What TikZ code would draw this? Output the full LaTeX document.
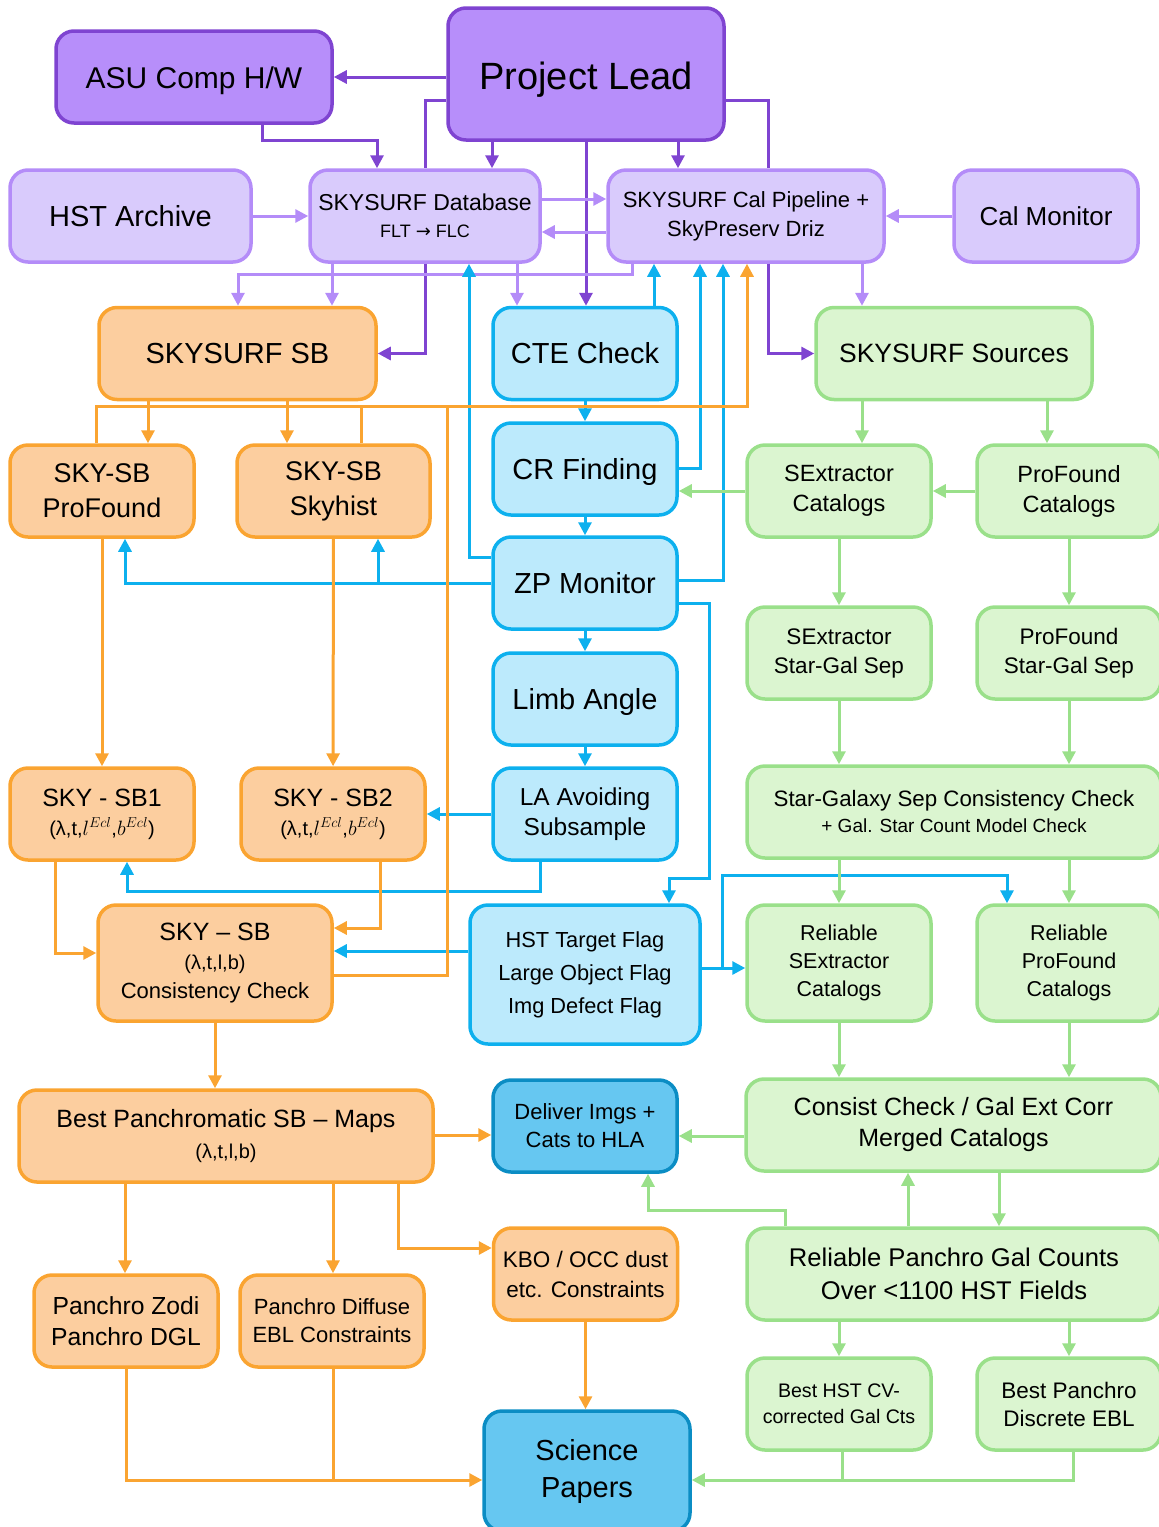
\documentclass[tikz,border=0pt]{standalone}
\usepackage{fontspec}
\setmainfont{Liberation Sans}
\newfontfamily\arrowfont{DejaVu Sans}
\usetikzlibrary{arrows.meta}
\definecolor{leadfill}{HTML}{B78EFA}
\definecolor{leaddraw}{HTML}{7F44D1}
\definecolor{archfill}{HTML}{D9CBFC}
\definecolor{archdraw}{HTML}{B48CF8}
\definecolor{skyfill}{HTML}{FCCE9F}
\definecolor{skydraw}{HTML}{FAA431}
\definecolor{calfill}{HTML}{BCEAFC}
\definecolor{caldraw}{HTML}{0DB0EE}
\definecolor{dlvfill}{HTML}{66C7F1}
\definecolor{dlvdraw}{HTML}{0B8DC4}
\definecolor{srcfill}{HTML}{DBF5D0}
\definecolor{srcdraw}{HTML}{9AE08A}
\newcommand{\lowered}[2]{\raisebox{-#1}[\height][\depth]{#2}}

\begin{document}
\begin{tikzpicture}[x=1pt, y=-1pt,
		box/.style={draw, rounded corners=18pt, line width=3.5pt, align=center, inner sep=0pt,
			minimum width=184pt, minimum height=92pt},
		leadbox/.style={box, fill=leadfill, draw=leaddraw},
		archbox/.style={box, fill=archfill, draw=archdraw},
		skybox/.style={box, fill=skyfill, draw=skydraw},
		calbox/.style={box, fill=calfill, draw=caldraw},
		dlvbox/.style={box, fill=dlvfill, draw=dlvdraw},
		srcbox/.style={box, fill=srcfill, draw=srcdraw},
		fsz/.style 2 args={font=\fontsize{#1}{#2}\selectfont},
		conn/.style={line width=3pt, -{Triangle[length=13pt,width=13pt]}},
		pl/.style={conn, draw=leaddraw},
		al/.style={conn, draw=archdraw},
		sl/.style={conn, draw=skydraw},
		cl/.style={conn, draw=caldraw},
		gl/.style={conn, draw=srcdraw},
		sline/.style={line width=3pt, draw=skydraw} ]
	\useasboundingbox (0,0) rectangle (1159,1527);

	% top rows
	\node[leadbox, minimum width=276pt, minimum height=132pt, fsz={38}{44}] (lead) at (586,74) {\lowered{6pt}{Project Lead}};
	\node[leadbox, minimum width=276pt, fsz={30}{36}] (asu) at (194,77) {\lowered{4pt}{ASU Comp H/W}};
	\node[archbox, minimum width=241pt, fsz={29}{35}] (arch) at (130.5,216) {HST Archive};
	\node[archbox, minimum width=230pt, fsz={23}{27}] (db) at (425,216) {SKYSURF Database\\{\fontsize{18}{22}\selectfont FLT {\arrowfont →} FLC}};
	\node[archbox, minimum width=276pt, fsz={22}{29}] (cal) at (746,216) {SKYSURF Cal Pipeline +\\SkyPreserv Driz};
	\node[archbox, fsz={26}{32}] (calmon) at (1046,216) {Cal Monitor};
	\node[skybox, minimum width=277pt, fsz={29}{35}] (sb) at (237.5,353.5) {SKYSURF SB};
	\node[calbox, fsz={29}{35}] (cte) at (585,353.5) {CTE Check};
	\node[srcbox, minimum width=276pt, fsz={26.5}{32}] (src) at (954,353.5) {SKYSURF Sources};

	% sky, calibration and source columns
	\node[skybox, fsz={27}{35}] (sbpf) at (102,491) {SKY-SB\\ProFound};
	\node[skybox, minimum width=193pt, fsz={27}{35}] (sbsh) at (333.5,491) {SKY-SB\\Skyhist};
	\node[calbox, fsz={29}{35}] (crf) at (585,469) {\lowered{3pt}{CR Finding}};
	\node[srcbox, fsz={23.5}{30}] (sec) at (839,491) {SExtractor\\Catalogs};
	\node[srcbox, fsz={23.5}{30}] (pfc) at (1069,491) {ProFound\\Catalogs};
	\node[calbox, fsz={29}{35}] (zp) at (585,583) {ZP Monitor};
	\node[srcbox, fsz={22.5}{29}] (sesg) at (839,653) {SExtractor\\Star-Gal Sep};
	\node[srcbox, fsz={22.5}{29}] (pfsg) at (1069,653) {ProFound\\Star-Gal Sep};
	\node[calbox, fsz={29}{35}] (limb) at (585,699) {\lowered{3pt}{Limb Angle}};
	\node[skybox, fsz={25}{29}] (sb1) at (102,814) {SKY - SB1\\{\fontsize{20}{22}\selectfont (λ,t,$l^{Ecl}$,$b^{Ecl}$)}};
	\node[skybox, fsz={25}{29}] (sb2) at (333,814) {SKY - SB2\\{\fontsize{20}{22}\selectfont (λ,t,$l^{Ecl}$,$b^{Ecl}$)}};
	\node[calbox, fsz={24.5}{30}] (la) at (585,814) {LA Avoiding\\Subsample};
	\node[srcbox, minimum width=414pt, fsz={22.3}{26}] (sgc) at (954,812) {Star-Galaxy Sep Consistency Check\\{\fontsize{19}{22}\selectfont + Gal. Star Count Model Check}};
	\node[skybox, minimum width=234pt, minimum height=116pt, fsz={22}{29}] (cons) at (215,963) {{\fontsize{25}{29}\selectfont SKY -- SB}\\{\fontsize{20}{29}\selectfont (λ,t,l,b)}\\Consistency Check};
	\node[calbox, minimum width=230pt, minimum height=139pt, fsz={21.8}{33}] (flag) at (585,974.5) {HST Target Flag\\Large Object Flag\\Img Defect Flag};
	\node[srcbox, minimum height=116pt, fsz={21.5}{28}] (rse) at (839,963) {Reliable\\SExtractor\\Catalogs};
	\node[srcbox, minimum height=116pt, fsz={21.5}{28}] (rpf) at (1069,963) {Reliable\\ProFound\\Catalogs};

	% products
	\node[skybox, minimum width=414pt, fsz={25}{31}] (best) at (226,1136) {Best Panchromatic SB -- Maps\\{\fontsize{20}{31}\selectfont (λ,t,l,b)}};
	\node[dlvbox, fsz={22}{28}] (dlv) at (585,1126) {Deliver Imgs +\\Cats to HLA};
	\node[srcbox, minimum width=415pt, fsz={25}{31}] (cc) at (953.5,1125) {Consist Check / Gal Ext Corr\\Merged Catalogs};
	\node[skybox, fsz={22.5}{30}] (kbo) at (585.5,1274) {KBO / OCC dust\\etc. Constraints};
	\node[srcbox, minimum width=414pt, fsz={25.6}{33}] (rpg) at (954,1274) {Reliable Panchro Gal Counts\\Over <1100 HST Fields};
	\node[skybox, fsz={24.7}{31}] (zodi) at (126,1321) {Panchro Zodi\\Panchro DGL};
	\node[skybox, fsz={22}{28}] (dif) at (332,1321) {Panchro Diffuse\\EBL Constraints};
	\node[dlvbox, minimum width=206pt, minimum height=120pt, fsz={29}{37}] (sci) at (587,1471) {Science\\Papers};
	\node[srcbox, fsz={19.6}{26}] (hcv) at (839,1404) {Best HST CV-\\corrected Gal Cts};
	\node[srcbox, fsz={22.5}{28}] (ebl) at (1069,1404) {Best Panchro\\Discrete EBL};

	% project lead
	\draw[pl] (lead.west |- asu.east) -- (asu.east);
	\draw[pl] (262,0 |- asu.south) -- (262,140) -| (377,0 |- db.north);
	\draw[pl] (492,0 |- lead.south) -- (492,0 |- db.north);
	\draw[pl, -] (lead.west |- 0,100) -| (425,0 |- db.north);
	\draw[pl] (425,0 |- db.south) |- (sb.east);
	\draw[pl] (lead.south) -- (lead.south |- cte.north);
	\draw[pl, -] (lead.east |- 0,100) -| (768,0 |- cal.north);
	\draw[pl] (768,0 |- cal.south) |- (src.west);
	\draw[pl] (678,0 |- lead.south) -- (678,0 |- cal.north);

	% archive and pipeline
	\draw[al] (arch) -- (db);
	\draw[al] (db.east |- 0,199) -- (cal.west |- 0,199);
	\draw[al] (cal.west |- 0,232) -- (db.east |- 0,232);
	\draw[al] (calmon) -- (cal);
	\draw[al] (332,0 |- db.south) -- (332,0 |- sb.north);
	\draw[al] (517,0 |- db.south) -- (517,0 |- cte.north);
	\draw[al] (632,0 |- cal.south) |- (238,274) -- (238,0 |- sb.north);
	\draw[al] (862,0 |- cal.south) -- (862,0 |- src.north);

	% calibration chain
	\draw[cl] (654,0 |- cte.north) -- (654,0 |- cal.south);
	\draw[cl] (cte) -- (crf);
	\draw[cl] (crf.east |- 0,468) -| (700,0 |- cal.south);
	\draw[cl] (crf) -- (zp);
	\draw[cl] (zp.east |- 0,580) -| (723,0 |- cal.south);
	\draw[cl] (zp.west |- 0,557) -| (469,0 |- db.south);
	\draw[cl] (zp.west |- 0,583) -| (125,0 |- sbpf.south);
	\draw[cl] (378,583) -- (378,0 |- sbsh.south);
	\draw[cl] (zp.east |- 0,603) -| (709,878) -| (669,0 |- flag.north);
	\draw[cl] (zp) -- (limb);
	\draw[cl] (limb) -- (la);
	\draw[cl] (la) -- (sb2);
	\draw[cl] (540,0 |- la.south) |- (127,891) -- (127,0 |- sb1.south);
	\draw[cl] (flag.west |- 0,951) -- (cons.east |- 0,951);
	\draw[cl] (flag.east |- 0,968) -- (rse.west |- 0,968);
	\draw[cl] (722,968) |- (1007,875) -- (1007,0 |- rpf.north);

	% sky surface brightness
	\draw[sl] (148,0 |- sb.south) -- (148,0 |- sbpf.north);
	\draw[sl] (287,0 |- sb.south) -- (287,0 |- sbsh.north);
	\draw[sl] (96,0 |- sbpf.north) |- (747,406) -- (747,0 |- cal.south);
	\draw[sline] (361,0 |- sbsh.north) -- (361,406);
	\draw[sline] (cons.east |- 0,975) -| (447,406);
	\draw[sl] (sbpf) -- (sb1);
	\draw[sl] (sbsh) -- (sb2);
	\draw[sl] (55,0 |- sb1.south) |- (cons.west |- 0,953);
	\draw[sl] (380,0 |- sb2.south) |- (cons.east |- 0,928);
	\draw[sl] (cons.south) -- (cons.south |- best.north);
	\draw[sl] (best.east |- 0,1135) -- (dlv.west |- 0,1135);
	\draw[sl] (125,0 |- best.south) -- (125,0 |- zodi.north);
	\draw[sl] (333,0 |- best.south) -- (333,0 |- dif.north);
	\draw[sl] (398,0 |- best.south) |- (kbo.west |- 0,1248);
	\draw[sl] (kbo.south) -- (kbo.south |- sci.north);
	\draw[sl] (126,0 |- zodi.south) |- (sci.west |- 0,1480);
	\draw[sline] (333,0 |- dif.south) -- (333,1480);

	% sources
	\draw[gl] (862,0 |- src.south) -- (862,0 |- sec.north);
	\draw[gl] (1047,0 |- src.south) -- (1047,0 |- pfc.north);
	\draw[gl] (pfc) -- (sec);
	\draw[gl] (sec.west) -- (crf.east |- sec.west);
	\draw[gl] (sec) -- (sesg);
	\draw[gl] (pfc) -- (pfsg);
	\draw[gl] (sesg.south) -- (sesg.south |- sgc.north);
	\draw[gl] (pfsg.south) -- (pfsg.south |- sgc.north);
	\draw[gl] (839,0 |- sgc.south) -- (839,0 |- rse.north);
	\draw[gl] (1069,0 |- sgc.south) -- (1069,0 |- rpf.north);
	\draw[gl] (rse.south) -- (rse.south |- cc.north);
	\draw[gl] (rpf.south) -- (rpf.south |- cc.north);
	\draw[gl] (cc.west |- 0,1136) -- (dlv.east |- 0,1136);
	\draw[gl] (999,0 |- cc.south) -- (999,0 |- rpg.north);
	\draw[gl] (908,0 |- rpg.north) -- (908,0 |- cc.south);
	\draw[gl] (785,0 |- rpg.north) |- (648,1210) -- (648,0 |- dlv.south);
	\draw[gl] (839,0 |- rpg.south) -- (839,0 |- hcv.north);
	\draw[gl] (1069,0 |- rpg.south) -- (1069,0 |- ebl.north);
	\draw[gl] (842,0 |- hcv.south) |- (sci.east |- 0,1480);
	\draw[gl, -] (1073,0 |- ebl.south) |- (842,1480);
\end{tikzpicture}
\end{document}
